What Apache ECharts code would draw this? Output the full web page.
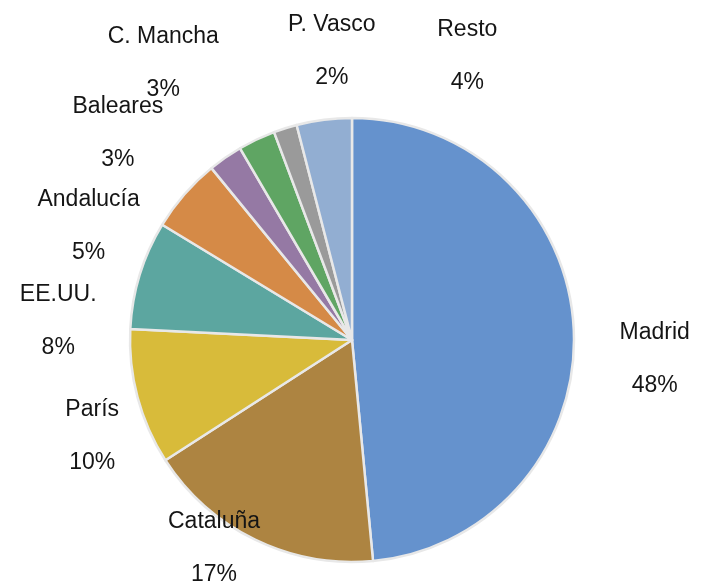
<!DOCTYPE html>
<html>
<head>
<meta charset="utf-8">
<script src="https://cdn.jsdelivr.net/npm/echarts@6/dist/echarts.min.js"></script>
<style>
    html, body { margin: 0; padding: 0; background: #fff; }
    #chart { width: 701px; height: 586px; }
</style>
</head>
<body>
<div id="chart"></div>
<script>
var regions = ['Madrid', 'Cataluña', 'París', 'EE.UU.', 'Andalucía', 'Baleares', 'C. Mancha', 'P. Vasco', 'Resto'];
var shares = [48.49, 17.4, 9.9, 7.9, 5.4, 2.5, 2.7, 1.7, 4.01];
var sliceColors = ['#6592cd', '#ad8441', '#d8bb3a', '#5ca6a0', '#d58a47', '#9579a4', '#5fa563', '#9a9a9a', '#92aed2'];

// label nudges away from the plain radial spot (layout only)
var labelDx = [3, -7, 30, -7, -37, -63, -60, 70, 153];
var labelDy = [33, -62, 19, 69, 83, 40, -6, -3, 14];

var pieCenter = [352, 340];
var pieRadius = 222;
var labelDist = 300;

function midAngle(idx) {
    var total = 0, before = 0;
    for (var i = 0; i < shares.length; i++) {
        total += shares[i];
        if (i < idx) before += shares[i];
    }
    return (before + shares[idx] / 2) / total * 2 * Math.PI;
}

function getOption() {
    var data = regions.map(function (name, i) {
        return { name: name, value: shares[i], itemStyle: { color: sliceColors[i] } };
    });

    var option = {
        backgroundColor: '#fff',
        animation: false,
        series: [
            {
                type: 'pie',
                center: pieCenter,
                radius: pieRadius,
                startAngle: 90,
                clockwise: true,
                percentPrecision: 0,
                avoidLabelOverlap: false,
                itemStyle: {
                    borderColor: '#e8e8e8',
                    borderWidth: 2.5
                },
                label: {
                    show: true,
                    position: 'outside',
                    formatter: '{b}\n{d}%',
                    fontFamily: 'Liberation Sans',
                    fontSize: 23,
                    lineHeight: 53,
                    color: '#151515',
                    align: 'center'
                },
                labelLine: { show: false },
                labelLayout: function (params) {
                    var i = params.dataIndex;
                    var a = midAngle(i);
                    return {
                        x: pieCenter[0] + labelDist * Math.sin(a) + labelDx[i],
                        y: pieCenter[1] - labelDist * Math.cos(a) + labelDy[i],
                        align: 'center',
                        verticalAlign: 'middle'
                    };
                },
                emphasis: { disabled: true },
                data: data
            }
        ]
    };
    return option;
}

var myChart = echarts.init(document.getElementById('chart'));
myChart.setOption(getOption());
</script>
</body>
</html>
